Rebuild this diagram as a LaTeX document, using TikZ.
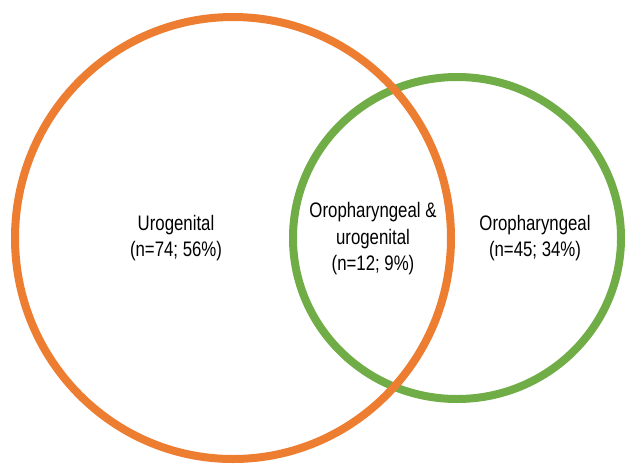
\documentclass[tikz,border=0pt]{standalone}
\usepackage{fontspec}
\setmainfont{Liberation Sans}[FakeStretch=0.80]
\definecolor{uroorange}{HTML}{ED7D31}
\definecolor{orogreen}{HTML}{70AD47}
\tikzset{
  ring/.style={line width=8pt},
  lbl/.style={align=center, font=\fontsize{21}{26.5}\selectfont, inner sep=0pt}
}
\begin{document}
\begin{tikzpicture}[x=1pt,y=-1pt]
    \useasboundingbox (0,0) rectangle (629,464);

    % circles (orange on top)
    \draw[ring, orogreen] (457,238) ellipse (164 and 161);
    \draw[ring, uroorange] (233,238) ellipse (218 and 221);

    % set labels
    \node[lbl] (uro) at (176,238) {Urogenital\\(n=74; 56\%)};
    \node[lbl] (both) at (373,239) {Oropharyngeal \&\\urogenital\\(n=12; 9\%)};
    \node[lbl] (oro) at (535,238) {Oropharyngeal\\(n=45; 34\%)};
\end{tikzpicture}
\end{document}
